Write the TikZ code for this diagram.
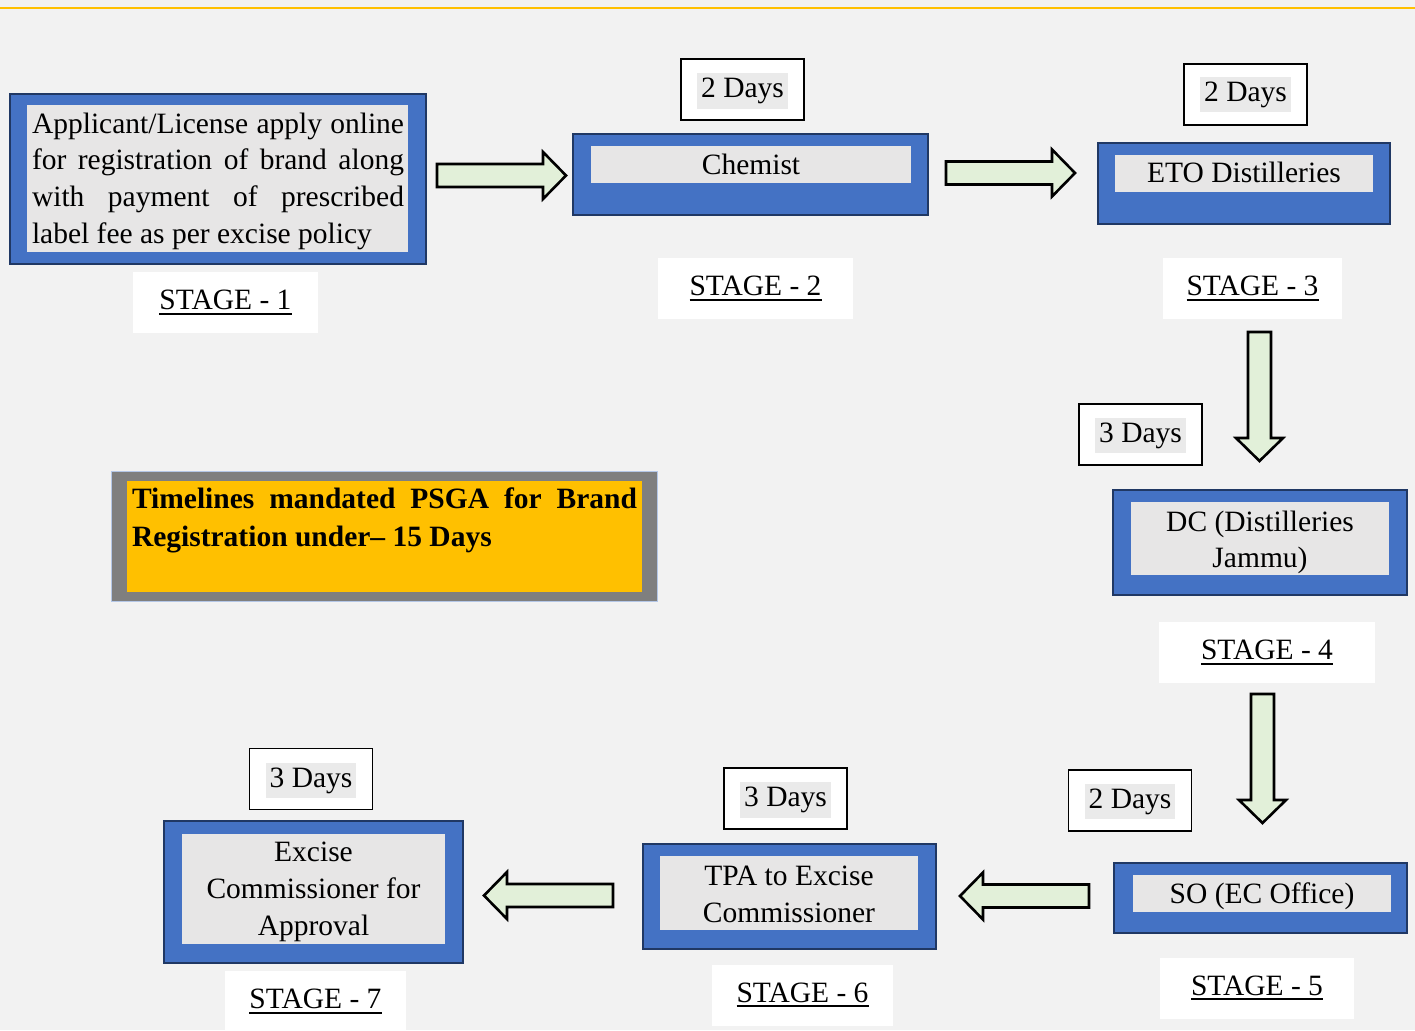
\documentclass[tikz,border=0pt]{standalone}
\usepackage{fontspec}
\setmainfont{Liberation Serif}
\definecolor{pageBg}{HTML}{F2F2F2}
\definecolor{topLine}{HTML}{FFC000}
\definecolor{boxBlue}{HTML}{4472C4}
\definecolor{boxEdge}{HTML}{203864}
\definecolor{boxGray}{HTML}{E7E6E6}
\definecolor{dayGray}{HTML}{EAEAEA}
\definecolor{arrowGreen}{HTML}{E2F0D9}
\definecolor{noteOrange}{HTML}{FFC000}
\definecolor{noteGray}{HTML}{7F7F7F}
\definecolor{noteEdge}{HTML}{B4C7E7}
\newcommand\stageul[1]{\vtop{\hbox{#1}\kern2.5pt\hrule height 1.8pt}}

\begin{document}
\begin{tikzpicture}[x=1pt,y=-1pt,
  every node/.style={font=\fontsize{29.5}{36.7}\selectfont,inner sep=0pt},
  outerbox/.style={fill=boxBlue,draw=boxEdge,line width=2pt},
  innerbox/.style={fill=boxGray},
  daybox/.style={fill=white,draw=black,line width=1.2pt,minimum width=123pt,minimum height=61pt},
  dayhl/.style={fill=dayGray,inner xsep=4pt,inner ysep=5pt},
  stagelbl/.style={fill=white,minimum height=61pt},
  blockarrow/.pic={
    \draw[fill=arrowGreen,line width=2.6pt,line join=miter]
      (0,-11.5) -- (106,-11.5) -- (106,-23.5) -- (129,0) -- (106,23.5) -- (106,11.5) -- (0,11.5) -- cycle;
  }]
  \useasboundingbox (0,0) rectangle (1415,1030);
  \path[fill=pageBg] (0,0) rectangle (1415,1030);
  \draw[topLine,line width=2.8pt] (0,8) -- (1415,8);

  \node[outerbox,minimum width=416pt,minimum height=170pt] (S1) at (218,179) {};
  \node[innerbox,minimum width=381pt,minimum height=147pt] (G1) at (217.5,178.5) {};
  \node[text width=372pt,align=justify] (T1) at (218,181) {Applicant/License apply online\linebreak for registration of brand along\linebreak with payment of prescribed\linebreak label fee as per excise policy};
  \node[stagelbl,minimum width=185pt] (L1) at (225.5,302.5) {\stageul{STAGE - 1}};

  \node[daybox] (D2) at (742.5,89.5) {};
  \node[dayhl] (H2) at (742.5,91) {2 Days};
  \node[outerbox,minimum width=355pt,minimum height=81pt] (S2) at (750.5,174.5) {};
  \node[innerbox,minimum width=320pt,minimum height=37pt] (G2) at (751,164.5) {Chemist};
  \node[stagelbl,minimum width=195pt] (L2) at (755.5,288.5) {\stageul{STAGE - 2}};

  \node[daybox] (D3) at (1245.5,94.5) {};
  \node[dayhl] (H3) at (D3) {2 Days};
  \node[outerbox,minimum width=292pt,minimum height=81pt] (S3) at (1244,183.5) {};
  \node[innerbox,minimum width=258pt,minimum height=37pt] (G3) at (1244,173.5) {};
  \node (T3) at (1244,172.5) {ETO Distilleries};
  \node[stagelbl,minimum width=179pt] (L3) at (1252.5,288.5) {\stageul{STAGE - 3}};

  \node[daybox] (D4) at (1140.5,434.5) {};
  \node[dayhl] (H4) at (1140.5,435.5) {3 Days};
  \node[outerbox,minimum width=294pt,minimum height=105pt] (S4) at (1260,542.5) {};
  \node[innerbox,minimum width=258pt,minimum height=73pt] (G4) at (1260,538.5) {};
  \node[align=center] (T4) at (1260,542.5) {DC (Distilleries\\Jammu)};
  \node[stagelbl,minimum width=216pt] (L4) at (1267,652.5) {\stageul{STAGE - 4}};

  \node[daybox] (D5) at (1130,800.5) {};
  \node[dayhl] (H5) at (1130,801.5) {2 Days};
  \node[outerbox,minimum width=293pt,minimum height=70pt] (S5) at (1260.5,898) {};
  \node[innerbox,minimum width=258pt,minimum height=37pt] (G5) at (1262,893.5) {};
  \node (T5) at (1262,896.5) {SO (EC Office)};
  \node[stagelbl,minimum width=194pt] (L5) at (1257,988) {\stageul{STAGE - 5}};

  \node[daybox] (D6) at (785.5,798.5) {};
  \node[dayhl] (H6) at (785.5,800) {3 Days};
  \node[outerbox,minimum width=293pt,minimum height=105pt] (S6) at (789.5,896.5) {};
  \node[innerbox,minimum width=258pt,minimum height=74pt] (G6) at (789,893) {};
  \node[align=center] (T6) at (789,894.5) {TPA to Excise\\Commissioner};
  \node[stagelbl,minimum width=181pt] (L6) at (802.5,995) {\stageul{STAGE - 6}};

  \node[daybox] (D7) at (311,779) {};
  \node[dayhl] (H7) at (311,780.5) {3 Days};
  \node[outerbox,minimum width=299pt,minimum height=142pt] (S7) at (313.5,892) {};
  \node[innerbox,minimum width=263pt,minimum height=110pt] (G7) at (313.5,889) {};
  \node[align=center] (T7) at (313.5,892) {Excise\\Commissioner for\\Approval};
  \node[stagelbl,minimum width=181pt] (L7) at (315.5,1001.5) {\stageul{STAGE - 7}};

  \node[fill=noteGray,draw=noteEdge,line width=0.8pt,minimum width=546pt,minimum height=130pt] (N1) at (384,536) {};
  \node[fill=noteOrange,minimum width=515pt,minimum height=111pt] (N2) at (384.5,536.5) {};
  \node[font=\fontsize{29.5}{38}\selectfont\bfseries,text width=505pt,align=justify] (N3) at (384.5,520) {Timelines mandated PSGA for Brand\linebreak Registration under– 15 Days};

  \coordinate (C12) at (437,175.5);
  \coordinate (C23) at (946,173);
  \coordinate (C34) at (1259.5,332);
  \coordinate (C45) at (1262.5,694);
  \coordinate (C56) at (1089,896);
  \coordinate (C67) at (613,895.5);
  \pic at (C12) {blockarrow};
  \pic at (C23) {blockarrow};
  \pic[rotate=-90] at (C34) {blockarrow};
  \pic[rotate=-90] at (C45) {blockarrow};
  \pic[rotate=180] at (C56) {blockarrow};
  \pic[rotate=180] at (C67) {blockarrow};
\end{tikzpicture}
\end{document}
